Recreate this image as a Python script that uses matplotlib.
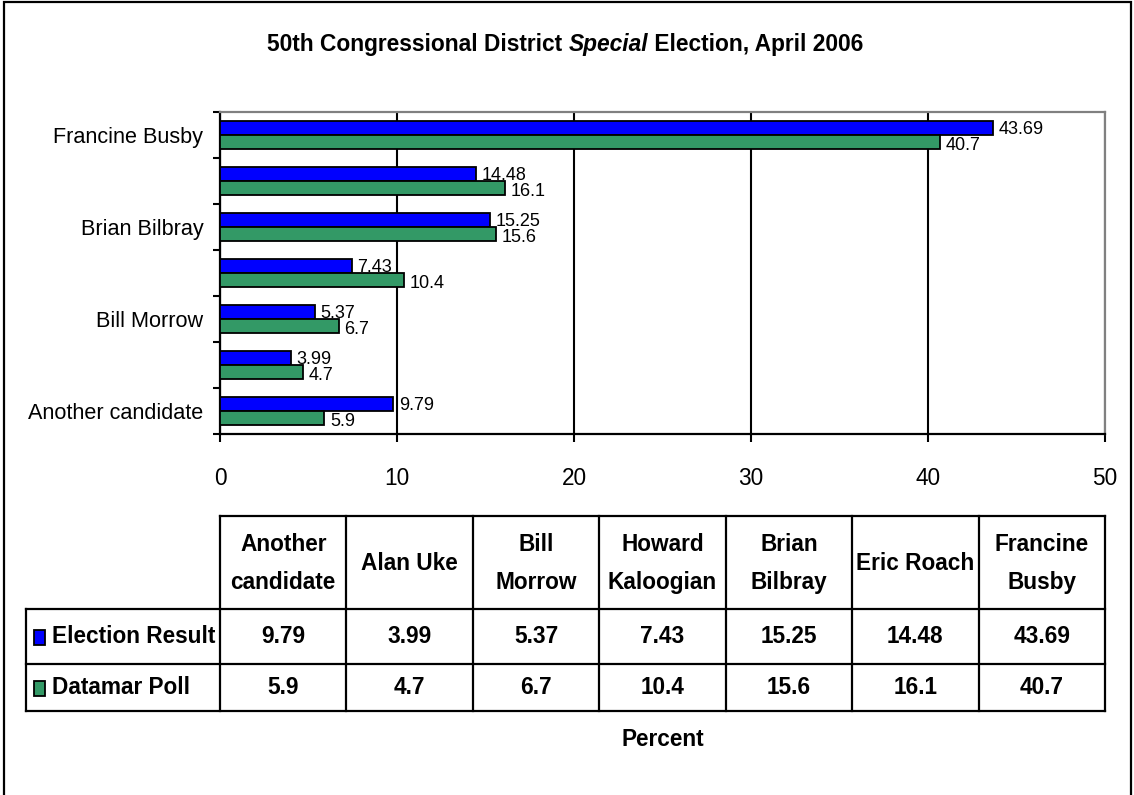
import matplotlib
matplotlib.use("Agg")
import matplotlib.pyplot as plt
from matplotlib import font_manager
from matplotlib.patches import Rectangle
from matplotlib.lines import Line2D

# ---------------- data ----------------
candidates = ["Another candidate", "Alan Uke", "Bill Morrow", "Howard Kaloogian",
              "Brian Bilbray", "Eric Roach", "Francine Busby"]
header_labels = ["Another\ncandidate", "Alan Uke", "Bill\nMorrow", "Howard\nKaloogian",
                 "Brian\nBilbray", "Eric Roach", "Francine\nBusby"]
election_result = [9.79, 3.99, 5.37, 7.43, 15.25, 14.48, 43.69]
datamar_poll = [5.9, 4.7, 6.7, 10.4, 15.6, 16.1, 40.7]
series_names = ["Election Result", "Datamar Poll"]
x_ticks = [0, 10, 20, 30, 40, 50]
title_pre = "50th Congressional District "
title_it = "Special"
title_post = " Election, April 2006"
xlabel = "Percent"

BLUE = "#0000FF"
GREEN = "#339966"

# ---------------- fonts ----------------
names = {f.name for f in font_manager.fontManager.ttflist}
if "Liberation Sans Narrow" in names:
    FAM = ["Liberation Sans Narrow", "DejaVu Sans"]
    k = 1.0 / 0.82
else:
    FAM = ["Liberation Sans", "DejaVu Sans"]
    k = 1.0
plt.rcParams["font.family"] = FAM

FS_TITLE = 16.4 * k
FS_DATA = 13.0 * k
FS_XT = 16.3 * k
FS_YT = 15.6 * k
FS_TAB = 16.3 * k
FS_XLAB = 16.3 * k

W, H = 1134, 795
fig = plt.figure(figsize=(W / 100, H / 100), dpi=100)
fig.patch.set_facecolor("white")

def fx(x):
    return x / W

def fy(y):
    return 1 - y / H

# outer frame
fig.add_artist(Rectangle((fx(4), fy(800)), fx(1131) - fx(4), fy(2) - fy(800),
                         transform=fig.transFigure, fill=False, ec="black", lw=1.6))

# ---------------- chart ----------------
ax = fig.add_axes([fx(220), fy(434), fx(1105) - fx(220), fy(112) - fy(434)])
ypos = list(range(len(candidates)))
bh = 0.31
yb = [p + bh / 2 for p in ypos]
yg = [p - bh / 2 for p in ypos]
ax.barh(yb, election_result, height=bh, color=BLUE, edgecolor="black", lw=1.3, zorder=3)
ax.barh(yg, datamar_poll, height=bh, color=GREEN, edgecolor="black", lw=1.3, zorder=3)

for y, v in zip(yb, election_result):
    ax.annotate(f"{v:g}", (v, y), xytext=(4, -1.5), textcoords="offset points",
                ha="left", va="center", fontsize=FS_DATA, zorder=4)
for y, v in zip(yg, datamar_poll):
    ax.annotate(f"{v:g}", (v, y), xytext=(4, -2.5), textcoords="offset points",
                ha="left", va="center", fontsize=FS_DATA, zorder=4)

ax.set_xlim(x_ticks[0], x_ticks[-1])
ax.set_ylim(-0.5, len(candidates) - 0.5)
ax.set_xticks(x_ticks)
ax.set_xticklabels([str(t) for t in x_ticks], fontsize=FS_XT)
ax.tick_params(axis="x", direction="out", length=6, width=1.5, pad=18)

ax.set_yticks([p - 0.5 for p in range(len(candidates) + 1)])
ax.set_yticklabels([])
ax.tick_params(axis="y", which="major", direction="out", length=5, width=1.5)
ax.set_yticks(ypos[::2], minor=True)
ax.set_yticklabels(candidates[::2], minor=True, fontsize=FS_YT)
ax.tick_params(axis="y", which="minor", length=0, pad=12)

ax.grid(axis="x", color="black", lw=1.5, zorder=1)
for s in ["left", "bottom"]:
    ax.spines[s].set_color("black")
    ax.spines[s].set_linewidth(1.6)
for s in ["top", "right"]:
    ax.spines[s].set_color("#808080")
    ax.spines[s].set_linewidth(1.6)
ax.set_axisbelow(True)

# ---------------- title ----------------
t1 = fig.text(0, 0, title_pre, fontsize=FS_TITLE, fontweight="bold")
t2 = fig.text(0, 0, title_it, fontsize=FS_TITLE, fontweight="bold", style="italic")
t3 = fig.text(0, 0, title_post, fontsize=FS_TITLE, fontweight="bold")
fig.canvas.draw()
r = fig.canvas.get_renderer()
w1 = t1.get_window_extent(r).width
w2 = t2.get_window_extent(r).width
w3 = t3.get_window_extent(r).width
x0 = 565 - (w1 + w2 + w3) / 2
for t, xx in [(t1, x0), (t2, x0 + w1), (t3, x0 + w1 + w2)]:
    t.set_position((fx(xx), fy(44)))
    t.set_va("center")
    t.set_ha("left")

# ---------------- data table ----------------
col_edges = [220 + i * (1105 - 220) / len(candidates) for i in range(len(candidates) + 1)]
y_head_top, y_head_bot, y_r1_bot, y_r2_bot = 516, 609, 664, 711
x_lab_left = 26
LW = 1.6

def hline(x0_, x1_, y):
    fig.add_artist(Line2D([fx(x0_), fx(x1_)], [fy(y), fy(y)], transform=fig.transFigure,
                          color="black", lw=LW, solid_capstyle="projecting"))

def vline(x, y0_, y1_):
    fig.add_artist(Line2D([fx(x), fx(x)], [fy(y0_), fy(y1_)], transform=fig.transFigure,
                          color="black", lw=LW, solid_capstyle="projecting"))

hline(col_edges[0], col_edges[-1], y_head_top)
hline(x_lab_left, col_edges[-1], y_head_bot)
hline(x_lab_left, col_edges[-1], y_r1_bot)
hline(x_lab_left, col_edges[-1], y_r2_bot)
vline(x_lab_left, y_head_bot, y_r2_bot)
for xe in col_edges:
    vline(xe, y_head_top, y_r2_bot)

for i, lab in enumerate(header_labels):
    cx = (col_edges[i] + col_edges[i + 1]) / 2
    fig.text(fx(cx), fy((y_head_top + y_head_bot) / 2 + 1), lab, ha="center", va="center",
             fontsize=FS_TAB, fontweight="bold", linespacing=1.8)
rows = [(election_result, BLUE, y_head_bot, y_r1_bot),
        (datamar_poll, GREEN, y_r1_bot, y_r2_bot)]
for (vals, col, ya, yb_), name in zip(rows, series_names):
    cy = (ya + yb_) / 2
    for i, v in enumerate(vals):
        cx = (col_edges[i] + col_edges[i + 1]) / 2
        fig.text(fx(cx), fy(cy), f"{v:g}", ha="center", va="center",
                 fontsize=FS_TAB, fontweight="bold")
    fig.add_artist(Rectangle((fx(34), fy(cy + 8)), fx(45) - fx(34), fy(cy - 7) - fy(cy + 8),
                             transform=fig.transFigure, fc=col, ec="black", lw=1.3))
    fig.text(fx(52), fy(cy), name, ha="left", va="center", fontsize=FS_TAB, fontweight="bold")

fig.text(fx(663), fy(740), xlabel, ha="center", va="center", fontsize=FS_XLAB,
         fontweight="bold")

fig.savefig("out.png", dpi=100, facecolor="white")
